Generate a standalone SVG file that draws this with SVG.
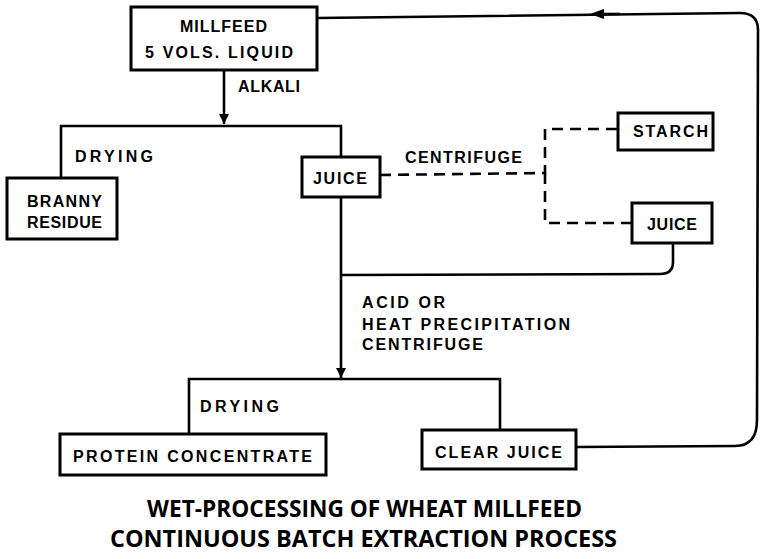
<svg xmlns="http://www.w3.org/2000/svg" width="765" height="559" viewBox="0 0 765 559">
<style>
.box{fill:#fff;stroke:#000;stroke-width:3}
.ln{fill:none;stroke:#000;stroke-width:2.6}
.dash{fill:none;stroke:#000;stroke-width:2.6;stroke-dasharray:11 7}
text{font-family:"Liberation Sans",Arial,sans-serif;font-weight:bold;font-size:16px;fill:#000}
.title{font-family:"Open Sans","Liberation Sans",sans-serif;font-size:23px}
</style>
<defs>
<marker id="ah" viewBox="0 0 10 10" refX="10" refY="5" markerWidth="10" markerHeight="10" markerUnits="userSpaceOnUse" orient="auto">
<path d="M0,0 L10,5 L0,10 Z" fill="#000"/>
</marker>
<marker id="ah2" viewBox="0 0 14 10" refX="7" refY="5" markerWidth="14" markerHeight="10" markerUnits="userSpaceOnUse" orient="auto">
<path d="M0,0 L14,5 L0,10 Z" fill="#000"/>
</marker>
</defs>
<g id="connectors">
<line class="ln" x1="224" y1="70" x2="224" y2="124" marker-end="url(#ah)"/>
<polyline class="ln" points="61,178 61,126 341,126 341,157"/>
<line class="ln" x1="341" y1="197" x2="341" y2="378" marker-end="url(#ah)"/>
<polyline class="dash" points="380,175 545,173 545,129 618,129"/>
<polyline class="dash" points="545,173 545,223 632,223"/>
<path class="ln" d="M673,243 L673,262 Q673,274 660,274 L341,275"/>
<polyline class="ln" points="189,434 189,379 500,379 500,430"/>
<path class="ln" d="M576,447 L735,446 Q757,446 757,420 L758,30 Q758,13 740,13 L317,18"/>
<path class="ln" d="M620,14 L597,14" marker-end="url(#ah2)"/>
</g>
<g id="millfeed">
<rect class="box" x="131" y="7" width="186" height="63"/>
<text x="180" y="32" textLength="87" lengthAdjust="spacing">MILLFEED</text>
<text x="145" y="58" textLength="148" lengthAdjust="spacing">5 VOLS. LIQUID</text>
</g>
<text x="238" y="92" textLength="62" lengthAdjust="spacing">ALKALI</text>
<text x="75" y="162" textLength="78" lengthAdjust="spacing">DRYING</text>
<g id="branny">
<rect class="box" x="7" y="178" width="110" height="61"/>
<text x="27" y="207" textLength="75" lengthAdjust="spacing">BRANNY</text>
<text x="27" y="228" textLength="75" lengthAdjust="spacing">RESIDUE</text>
</g>
<g id="juice1">
<rect class="box" x="302" y="157" width="78" height="40"/>
<text x="313" y="184" textLength="54" lengthAdjust="spacing">JUICE</text>
</g>
<text x="405" y="163" textLength="117" lengthAdjust="spacing">CENTRIFUGE</text>
<g id="starch">
<rect class="box" x="618" y="113" width="95" height="37"/>
<text x="633" y="137" textLength="75" lengthAdjust="spacing">STARCH</text>
</g>
<g id="juice2">
<rect class="box" x="632" y="203" width="80" height="40"/>
<text x="647" y="230" textLength="50" lengthAdjust="spacing">JUICE</text>
</g>
<text x="362" y="308" textLength="83" lengthAdjust="spacing">ACID OR</text>
<text x="362" y="330" textLength="208" lengthAdjust="spacing">HEAT PRECIPITATION</text>
<text x="362" y="350" textLength="121" lengthAdjust="spacing">CENTRIFUGE</text>
<text x="200" y="412" textLength="79" lengthAdjust="spacing">DRYING</text>
<g id="protein">
<rect class="box" x="60" y="434" width="266" height="41"/>
<text x="73" y="462" textLength="239" lengthAdjust="spacing">PROTEIN CONCENTRATE</text>
</g>
<g id="clearjuice">
<rect class="box" x="422" y="430" width="154" height="39"/>
<text x="435" y="458" textLength="127" lengthAdjust="spacing">CLEAR JUICE</text>
</g>
<text class="title" x="147" y="517" textLength="435" lengthAdjust="spacingAndGlyphs">WET-PROCESSING OF WHEAT MILLFEED</text>
<text class="title" x="110" y="547" textLength="507" lengthAdjust="spacingAndGlyphs">CONTINUOUS BATCH EXTRACTION PROCESS</text>
</svg>
